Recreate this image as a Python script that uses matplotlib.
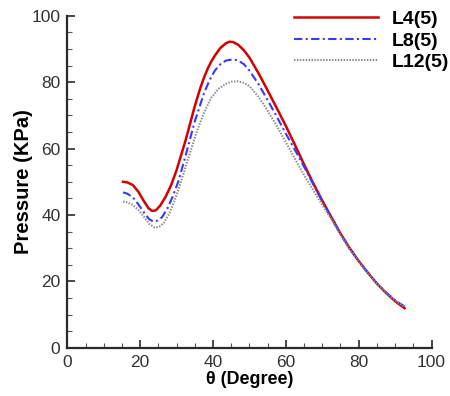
import matplotlib
matplotlib.use("Agg")
import matplotlib.pyplot as plt
from matplotlib.ticker import MultipleLocator

plt.rcParams['font.family'] = ['Liberation Sans', 'DejaVu Sans']

# Pressure distributions along the surface angle
theta_l4 = [15.3, 16.5, 18.0, 19.5, 21.0, 22.3, 23.3, 24.3, 25.5, 27.0, 28.5, 30.0,
            32.5, 35.0, 36.5, 37.5, 38.5, 39.5, 40.5, 42.0, 43.5, 44.5, 45.5, 47.0,
            48.5, 50.0, 52.5, 55.0, 57.5, 60.0, 62.5, 65.0, 67.5, 70.0, 72.5, 75.0,
            77.5, 80.0, 82.5, 85.0, 87.5, 90.0, 92.6]
p_l4 = [50.0, 49.8, 49.0, 47.0, 44.2, 42.0, 41.2, 41.4, 42.8, 45.5, 49.0, 53.5,
        62.6, 72.8, 78.2, 81.3, 84.0, 86.2, 88.0, 90.3, 91.7, 92.2, 92.1, 91.2,
        89.6, 87.4, 82.7, 77.5, 72.2, 66.8, 61.1, 55.2, 49.6, 44.3, 39.3, 34.4,
        30.0, 26.1, 22.6, 19.3, 16.5, 14.0, 11.9]

theta_l8 = [15.3, 16.5, 18.0, 19.5, 21.0, 22.5, 23.6, 24.8, 26.0, 27.5, 29.0, 30.5,
            32.5, 35.0, 37.5, 39.0, 40.5, 42.0, 43.5, 45.5, 47.0, 48.5, 50.0, 52.5,
            55.0, 57.5, 60.0, 62.5, 65.0, 67.5, 70.0, 72.5, 75.0, 77.5, 80.0, 82.5,
            85.0, 87.5, 90.0, 92.6]
p_l8 = [46.8, 46.4, 45.3, 43.2, 40.8, 38.7, 38.0, 38.3, 39.3, 42.0, 45.7, 50.2,
        58.0, 68.2, 76.6, 80.5, 83.5, 85.4, 86.5, 86.9, 86.5, 85.4, 83.5, 79.4,
        74.6, 69.6, 64.5, 59.6, 54.5, 49.3, 44.1, 39.2, 34.3, 30.0, 26.1, 22.6,
        19.4, 16.7, 14.3, 12.4]

theta_l12 = [15.3, 16.5, 18.0, 19.5, 21.0, 22.5, 24.0, 25.2, 26.5, 28.0, 29.5, 31.0,
             33.0, 35.5, 37.5, 39.5, 41.5, 43.5, 45.0, 46.7, 48.5, 50.0, 52.5, 55.0,
             57.5, 60.0, 62.5, 65.0, 67.5, 70.0, 72.5, 75.0, 77.5, 80.0, 82.5, 85.0,
             87.5, 90.0, 92.6]
p_l12 = [44.0, 43.8, 43.0, 41.5, 39.5, 37.3, 36.2, 36.4, 37.6, 40.4, 44.5, 49.3,
         56.3, 65.0, 70.8, 75.3, 78.0, 79.5, 80.1, 80.3, 79.8, 78.8, 75.6, 71.4,
         66.8, 61.9, 56.9, 52.0, 47.5, 43.0, 38.7, 34.0, 29.7, 25.9, 22.5, 19.3,
         16.6, 14.2, 12.3]

labels = ['L4(5)', 'L8(5)', 'L12(5)']
x_ticks = [0, 20, 40, 60, 80, 100]
y_ticks = [0, 20, 40, 60, 80, 100]

fig = plt.figure(figsize=(4.5, 3.96), dpi=100)
ax = fig.add_axes([0.1496, 0.122, 0.8094, 0.838])

ax.plot(theta_l4, p_l4, color='#d40000', lw=1.8, ls='-', label=labels[0])
ax.plot(theta_l8, p_l8, color='#3838ff', lw=1.5, ls=(0, (4, 1.6, 1, 1.6)), label=labels[1])
ax.plot(theta_l12, p_l12, color='#8c8c8c', lw=1.5, ls=(0, (0.7, 0.7)), label=labels[2])

ax.set_xlim(0, 100)
ax.set_ylim(0, 100)
ax.set_xticks(x_ticks)
ax.set_yticks(y_ticks)
ax.xaxis.set_minor_locator(MultipleLocator(5))
ax.yaxis.set_minor_locator(MultipleLocator(5))

for side in ('top', 'right'):
    ax.spines[side].set_visible(False)
for side in ('left', 'bottom'):
    ax.spines[side].set_linewidth(1.6)
    ax.spines[side].set_color('#2a2a2a')

ax.tick_params(which='major', direction='in', length=6, width=1.2, color='#2a2a2a',
               labelsize=12.5, labelcolor='#333333', pad=5)
ax.tick_params(which='minor', direction='in', length=3.5, width=0.8, color='#555555')

ax.set_xlabel('θ (Degree)', fontsize=13, fontweight='bold', labelpad=1)
ax.set_ylabel('Pressure (KPa)', fontsize=14.5, fontweight='bold')
ax.yaxis.set_label_coords(-0.095, 0.5)

leg = fig.legend(loc='upper left', bbox_to_anchor=(294 / 450, 1 - 10.5 / 396),
                 frameon=False, borderpad=0, borderaxespad=0,
                 handlelength=4.3, handletextpad=0.72, labelspacing=0.2,
                 prop={'weight': 'bold', 'size': 14})

fig.savefig('out.png', dpi=100)
